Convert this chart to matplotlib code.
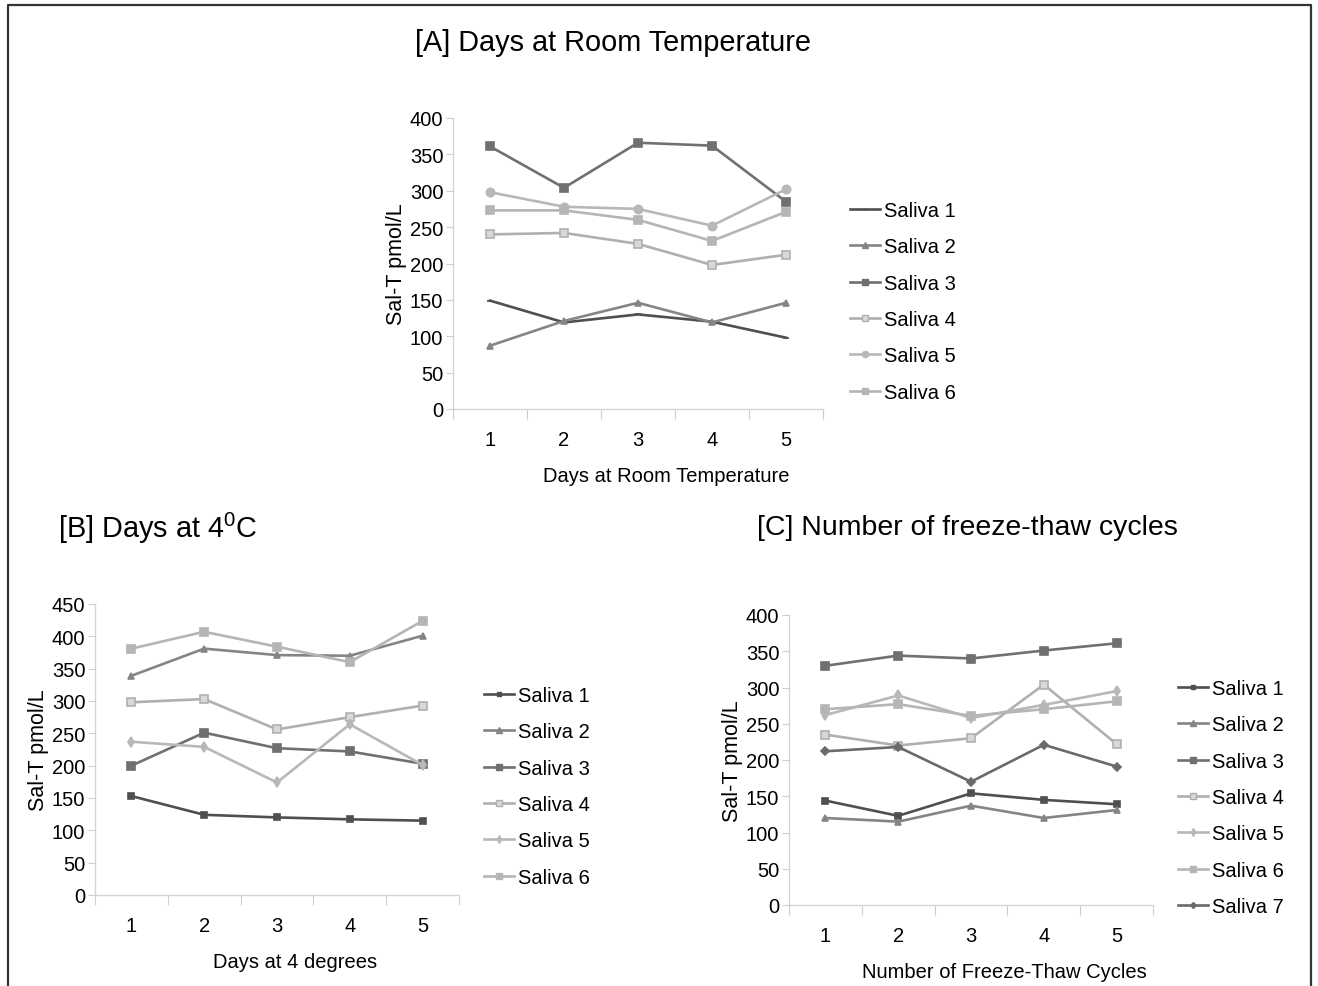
import matplotlib
matplotlib.use("Agg")
import matplotlib.pyplot as plt
from matplotlib.lines import Line2D

plt.rcParams["font.family"] = ["Liberation Sans", "DejaVu Sans"]
plt.rcParams["mathtext.fontset"] = "custom"
plt.rcParams["mathtext.rm"] = "Liberation Sans"

W, H = 1318, 987
DAYS = [1, 2, 3, 4, 5]

# [A] days at room temperature
room_s1 = [149, 119, 130, 120, 98]
room_s2 = [87, 121, 146, 119, 146]
room_s3 = [361, 304, 366, 362, 285]
room_s4 = [240, 242, 227, 198, 212]
room_s5 = [298, 278, 275, 252, 302]
room_s6 = [273, 273, 260, 231, 271]

# [B] days at 4 degrees
cold_s1 = [153, 124, 120, 117, 115]
cold_s2 = [339, 381, 371, 370, 401]
cold_s3 = [200, 251, 227, 222, 203]
cold_s4 = [298, 303, 256, 275, 293]
cold_s5 = [237, 229, 174, 264, 201]
cold_s6 = [381, 407, 384, 360, 424]

# [C] freeze-thaw cycles
ft_s1 = [144, 123, 154, 145, 139]
ft_s2 = [120, 115, 137, 120, 131]
ft_s3 = [330, 344, 340, 351, 361]
ft_s4 = [235, 220, 230, 304, 222]
ft_s5 = [262, 289, 258, 276, 295]
ft_s6 = [270, 277, 261, 270, 281]
ft_s7 = [212, 218, 170, 221, 191]

LABELS = ["Saliva 1", "Saliva 2", "Saliva 3", "Saliva 4", "Saliva 5", "Saliva 6", "Saliva 7"]

FS = 14.5


def style(i, small5="o", s1="_"):
    # (color, marker, markersize, facecolor)
    return [
        ("#4f4f4f", s1, 4, "#4f4f4f"),
        ("#858585", "^", 5, "#858585"),
        ("#707070", "s", 6, "#707070"),
        ("#b0b0b0", "s", 6, "#d8d8d8"),
        ("#b8b8b8", small5, 6 if small5 == "o" else 5, "#b8b8b8"),
        ("#b5b5b5", "s", 6, "#b5b5b5"),
        ("#6a6a6a", "D", 4, "#6a6a6a"),
    ][i]


def px_axes(fig, left, top, right, bottom):
    return fig.add_axes([left / W, 1 - bottom / H, (right - left) / W, (bottom - top) / H])


def panel(ax, series, ymax, xlabel, xlab_x, small5, s1, leg_xy):
    handles = []
    for i, ys in enumerate(series):
        c, m, ms, fc = style(i, small5, s1)
        ax.plot(DAYS, ys, color=c, lw=1.9, marker=m, ms=ms, mfc=fc, mec=c, mew=1.2)
        handles.append(Line2D([], [], color=c, lw=1.9, marker=m, ms=ms * 0.75, mfc=fc, mec=c))
    ax.set_xlim(0.5, 5.5)
    ax.set_ylim(0, ymax)
    ax.set_yticks(range(0, ymax + 1, 50))
    ax.set_xticks([0.5, 1.5, 2.5, 3.5, 4.5, 5.5])
    ax.set_xticklabels([])
    ax.set_xticks(DAYS, minor=True)
    ax.set_xticklabels([str(d) for d in DAYS], minor=True)
    ax.tick_params(axis="x", which="major", length=7, color="#cfcfcf", direction="out")
    ax.tick_params(axis="x", which="minor", length=0, pad=15, labelsize=FS)
    ax.tick_params(axis="y", length=5, color="#cfcfcf", labelsize=FS, pad=2)
    for sp in ["top", "right"]:
        ax.spines[sp].set_visible(False)
    for sp in ["left", "bottom"]:
        ax.spines[sp].set_color("#d4d4d4")
        ax.spines[sp].set_linewidth(1)
    ax.set_xlabel(xlabel, fontsize=FS)
    ax.xaxis.set_label_coords(xlab_x, -0.195)
    ax.set_ylabel("Sal-T pmol/L", fontsize=15.5, labelpad=2)
    leg = ax.legend(handles, LABELS[:len(series)], loc="upper left",
                    bbox_to_anchor=leg_xy, bbox_transform=ax.figure.transFigure,
                    frameon=False, fontsize=FS, handlelength=1.5, handletextpad=0.2,
                    labelspacing=0.86, borderpad=0)
    return leg


fig = plt.figure(figsize=(W / 100, H / 100), dpi=100)

# outer frame (left, top, right)
fig.add_artist(Line2D([8 / W, 8 / W, 1311 / W, 1311 / W],
                      [0, 1 - 6 / H, 1 - 6 / H, 0],
                      transform=fig.transFigure, color="#333333", lw=1.6))

axA = px_axes(fig, 453, 119, 823, 410)
panel(axA, [room_s1, room_s2, room_s3, room_s4, room_s5, room_s6], 400,
      "Days at Room Temperature", 0.576, "o", "_", (840 / W, 1 - 192 / H))

axB = px_axes(fig, 95, 605, 459, 896)
panel(axB, [cold_s1, cold_s2, cold_s3, cold_s4, cold_s5, cold_s6], 450,
      "Days at 4 degrees", 0.549, "d", "s", (474 / W, 1 - 677 / H))

axC = px_axes(fig, 789, 616, 1153, 906)
panel(axC, [ft_s1, ft_s2, ft_s3, ft_s4, ft_s5, ft_s6, ft_s7], 400,
      "Number of Freeze-Thaw Cycles", 0.593, "d", "s", (1168 / W, 1 - 670 / H))

fig.text(613 / W, 1 - 43 / H, "[A] Days at Room Temperature", fontsize=20.8,
         ha="center", va="center")
fig.text(58 / W, 1 - 528 / H, "[B] Days at 4$^\\mathregular{0}$C", fontsize=20.8,
         ha="left", va="center")
fig.text(757 / W, 1 - 528 / H, "[C] Number of freeze-thaw cycles", fontsize=20.5,
         ha="left", va="center")

fig.savefig("out.png", dpi=100, facecolor="white")
